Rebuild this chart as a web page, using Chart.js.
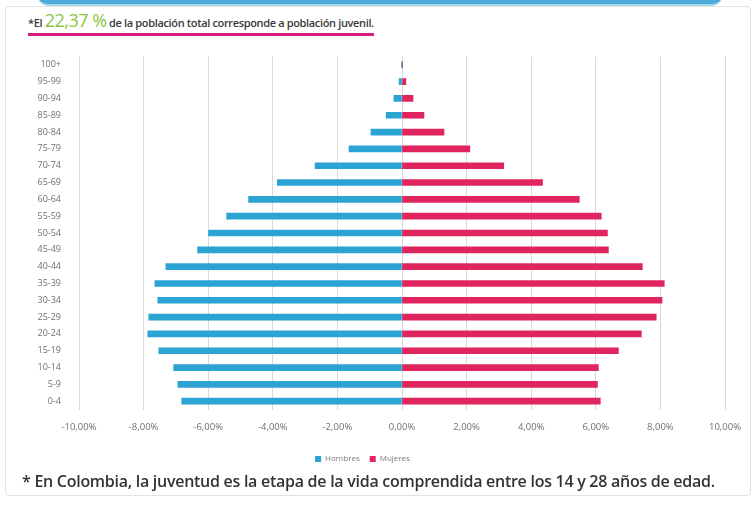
<!DOCTYPE html>
<html lang="es">
<head>
<meta charset="utf-8">
<script src="https://cdn.jsdelivr.net/npm/chart.js@4"></script>
<style>
  html, body { margin: 0; padding: 0; background: #fff; }
  body { width: 754px; height: 510px; position: relative; overflow: hidden; font-family: "Open Sans", sans-serif; }
  .card { position: absolute; left: 5px; top: 6px; width: 744px; height: 488px; border: 1px solid #e2e2e2; border-radius: 4px; }
  .topbar { position: absolute; left: 38px; top: -8px; width: 684px; height: 12px; border-radius: 0 0 10px 10px; background: #4aaad8; border-bottom: 2px solid #a9d8ee; }
  .title { position: absolute; left: 28px; top: 10px; font-family: "Open Sans", sans-serif; font-weight: 600; font-size: 11px; color: #3a3a3a; white-space: nowrap; letter-spacing: -0.35px; border-bottom: 3px solid #d81b7c; line-height: 21px; }
  .title .pct { color: #8cc63f; font-size: 18px; font-weight: 400; letter-spacing: -0.5px; }
  .note { position: absolute; left: 22px; top: 470px; font-family: "Open Sans", sans-serif; font-weight: 600; font-size: 16px; color: #333; white-space: nowrap; letter-spacing: -0.27px; }
  .wrap { position: absolute; left: 0; top: 41px; width: 754px; height: 432px; }
</style>
</head>
<body>
<div class="card"></div>
<div class="topbar"></div>
<div class="title">*El <span class="pct">22,37 %</span> de la población total corresponde a población juvenil.</div>
<div class="wrap"><canvas id="pyramid"></canvas></div>
<div class="note">* En Colombia, la juventud es la etapa de la vida comprendida entre los 14 y 28 años de edad.</div>
<script>
// Age groups, top to bottom
const ageGroups = ['100+', '95-99', '90-94', '85-89', '80-84', '75-79', '70-74', '65-69', '60-64', '55-59',
    '50-54', '45-49', '40-44', '35-39', '30-34', '25-29', '20-24', '15-19', '10-14', '5-9', '0-4'];

// Share of total population (%), men drawn to the left
const hombres = [0.02, 0.09, 0.25, 0.49, 0.96, 1.64, 2.69, 3.86, 4.75, 5.43,
    5.99, 6.33, 7.31, 7.65, 7.56, 7.84, 7.87, 7.53, 7.07, 6.94, 6.82];
const mujeres = [0.02, 0.12, 0.34, 0.68, 1.30, 2.10, 3.15, 4.35, 5.49, 6.17,
    6.36, 6.39, 7.44, 8.12, 8.05, 7.87, 7.41, 6.70, 6.08, 6.05, 6.14];

const xTicks = [-10, -8, -6, -4, -2, 0, 2, 4, 6, 8, 10];

const colors = {
    hombres: '#2ba4d4',
    mujeres: '#e0255e'
};

function formatPct(v) {
    return v.toFixed(2).replace('.', ',') + '%';
}

const ctx = document.getElementById('pyramid');
new Chart(ctx, {
    type: 'bar',
    data: {
        labels: ageGroups,
        datasets: [
            {
                label: 'Hombres',
                data: hombres.map(v => -v),
                backgroundColor: colors.hombres,
                barThickness: 6
            },
            {
                label: 'Mujeres',
                data: mujeres,
                backgroundColor: colors.mujeres,
                barThickness: 6
            }
        ]
    },
    options: {
        indexAxis: 'y',
        responsive: true,
        maintainAspectRatio: false,
        animation: false,
        layout: {
            padding: { top: 8, right: 29, left: 0, bottom: 0 }
        },
        plugins: {
            legend: {
                position: 'bottom',
                labels: {
                    boxWidth: 6,
                    boxHeight: 6,
                    padding: 10,
                    color: '#7a7a7a',
                    font: { family: 'Open Sans', size: 8 }
                }
            },
            tooltip: { enabled: false }
        },
        scales: {
            x: {
                stacked: true,
                min: -10,
                max: 10,
                afterBuildTicks: function(scale) {
                    scale.ticks = xTicks.map(v => ({ value: v }));
                },
                grid: {
                    color: '#d9d9d9',
                    drawTicks: false
                },
                border: { display: false },
                ticks: {
                    padding: 12,
                    color: '#707070',
                    font: { family: 'Open Sans', size: 9.5 },
                    maxRotation: 0,
                    callback: function(value) {
                        return formatPct(value);
                    }
                }
            },
            y: {
                stacked: true,
                grid: { display: false },
                border: { display: false },
                afterFit: function(scale) {
                    scale.width = 79;
                },
                ticks: {
                    padding: 10,
                    color: '#707070',
                    autoSkip: false,
                    font: { family: 'Open Sans', size: 9 }
                }
            }
        }
    }
});
</script>
</body>
</html>
